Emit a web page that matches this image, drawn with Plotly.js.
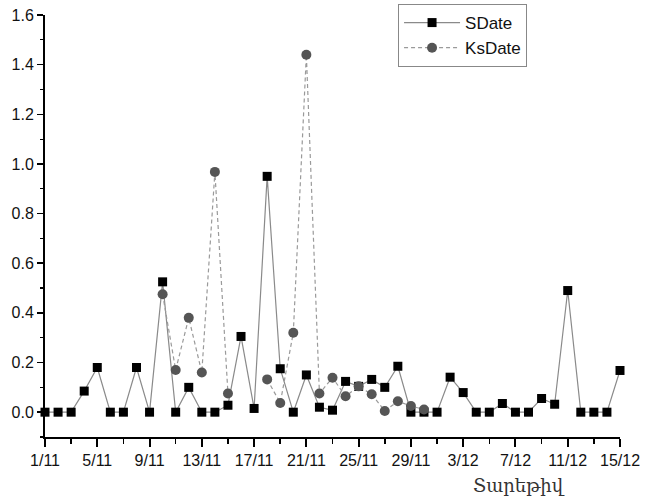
<!DOCTYPE html>
<html>
<head>
<meta charset="utf-8">
<script src="https://cdn.plot.ly/plotly-3.0.1.min.js"></script>
<style>html,body{margin:0;padding:0;background:#fff;}#chart{width:646px;height:502px;}</style>
</head>
<body>
<div id="chart"></div>
<script>
// Days (categories), 1 Nov .. 15 Dec
const days = ["1/11","2/11","3/11","4/11","5/11","6/11","7/11","8/11","9/11","10/11",
  "11/11","12/11","13/11","14/11","15/11","16/11","17/11","18/11","19/11","20/11",
  "21/11","22/11","23/11","24/11","25/11","26/11","27/11","28/11","29/11","30/11",
  "1/12","2/12","3/12","4/12","5/12","6/12","7/12","8/12","9/12","10/12",
  "11/12","12/12","13/12","14/12","15/12"];

const sDate = [0,0,0,0.085,0.18,0,0,0.18,0,0.525,
  0,0.10,0,0,0.028,0.305,0.015,0.95,0.175,0,
  0.15,0.02,0.008,0.124,0.104,0.132,0.10,0.185,0,0,
  0,0.141,0.079,0,0,0.035,0,0,0.055,0.032,
  0.49,0,0,0,0.168];

const ksDate = [null,null,null,null,null,null,null,null,null,0.475,
  0.17,0.38,0.16,0.968,0.075,null,null,0.132,0.037,0.32,
  1.44,0.075,0.139,0.064,0.104,0.072,0.005,0.044,0.025,0.011,
  null,null,null,null,null,null,null,null,null,null,
  null,null,null,null,null];

const tickLabels = ["1/11","5/11","9/11","13/11","17/11","21/11","25/11","29/11","3/12","7/12","11/12","15/12"];
const yTicks = [0.0,0.2,0.4,0.6,0.8,1.0,1.2,1.4,1.6];
const xTitle = "Տարեթիվ";
const seriesNames = ["SDate","KsDate"];

const xIdx = days.map((d, i) => i);
const tickVals = tickLabels.map(t => days.indexOf(t));

const traces = [
  {
    x: xIdx, y: sDate, name: seriesNames[0], type: 'scatter', mode: 'lines+markers',
    line: {color: '#8a8a8a', width: 1.2},
    marker: {symbol: 'square', size: 9, color: '#000'},
    cliponaxis: false
  },
  {
    x: xIdx, y: ksDate, name: seriesNames[1], type: 'scatter', mode: 'lines+markers',
    connectgaps: false,
    line: {color: '#9a9a9a', width: 1.2, dash: '4px,3px'},
    marker: {symbol: 'circle', size: 10, color: '#555'},
    cliponaxis: false
  }
];

const layout = {
  width: 646, height: 502,
  margin: {l: 45, r: 26, t: 15, b: 65, autoexpand: false},
  paper_bgcolor: '#fff', plot_bgcolor: '#fff',
  font: {family: 'Liberation Sans, Arial, sans-serif', size: 16, color: '#111'},
  showlegend: true,
  legend: {
    x: 0.614, y: 1.026, xanchor: 'left', yanchor: 'top',
    bgcolor: '#fff', bordercolor: '#888', borderwidth: 1,
    font: {family: 'Liberation Sans, Arial, sans-serif', size: 17, color: '#111'},
    tracegroupgap: 0, itemwidth: 56
  },
  xaxis: {
    range: [0, 44], tickmode: 'array', tickvals: tickVals, ticktext: tickLabels,
    showgrid: false, zeroline: false, showline: true, linecolor: '#000', linewidth: 2,
    ticks: 'outside', ticklen: 8, tickwidth: 2, tickcolor: '#000',
    minor: {tickmode: 'linear', tick0: 0, dtick: 2, ticks: 'outside', ticklen: 5, tickwidth: 1.5, tickcolor: '#000', showgrid: false},
    tickfont: {size: 16, color: '#111'}
  },
  yaxis: {
    range: [-0.1, 1.6], tickmode: 'array', tickvals: yTicks, ticktext: yTicks.map(v => v.toFixed(1)),
    showgrid: false, zeroline: false, showline: true, linecolor: '#000', linewidth: 2,
    ticks: 'outside', ticklen: 6, tickwidth: 1.5, tickcolor: '#000',
    minor: {tickmode: 'linear', tick0: 0, dtick: 0.1, ticks: 'outside', ticklen: 3, tickwidth: 1.2, tickcolor: '#000', showgrid: false},
    tickfont: {size: 16, color: '#111'}
  },
  annotations: [{
    text: xTitle, xref: 'paper', yref: 'paper', x: 0.824, y: -0.085,
    xanchor: 'center', yanchor: 'top', showarrow: false,
    font: {family: 'DejaVu Serif, serif', size: 18, color: '#333'}
  }]
};

Plotly.newPlot('chart', traces, layout, {displayModeBar: false, staticPlot: true});
</script>
</body>
</html>
